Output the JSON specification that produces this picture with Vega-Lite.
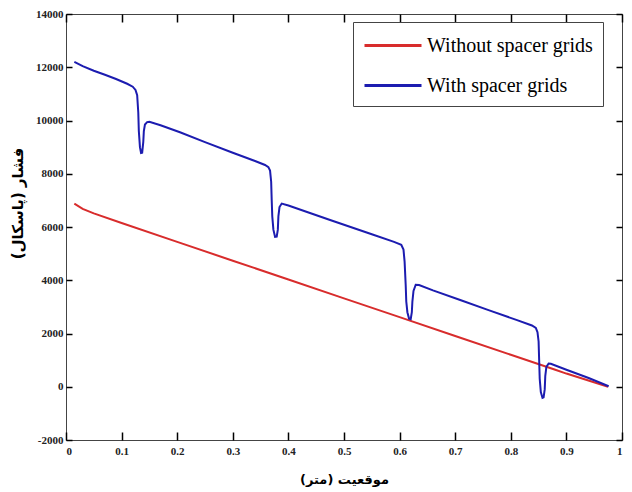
{
  "$schema": "https://vega.github.io/schema/vega-lite/v6.json",
  "width": 556,
  "height": 426,
  "autosize": {"type": "none"},
  "padding": {"left": 66, "top": 14, "right": 10, "bottom": 52},
  "background": "white",
  "config": {
    "view": {"stroke": "#444", "strokeWidth": 1},
    "axis": {
      "domain": false,
      "grid": false,
      "ticks": true,
      "tickColor": "#000000",
      "tickOpacity": 1,
      "tickWidth": 1.5,
      "labelFont": "Liberation Serif",
      "labelFontWeight": "bold",
      "labelFontSize": 11,
      "labelColor": "#222",
      "titleFont": "DejaVu Sans",
      "titleFontWeight": "bold",
      "titleFontSize": 14,
      "titleColor": "black"
    }
  },
  "datasets": {
    "curves": [
      {"x": 0.015, "p": 6880, "s": "Without spacer grids"},
      {"x": 0.03, "p": 6680, "s": "Without spacer grids"},
      {"x": 0.05, "p": 6510, "s": "Without spacer grids"},
      {"x": 0.1, "p": 6150, "s": "Without spacer grids"},
      {"x": 0.2, "p": 5440, "s": "Without spacer grids"},
      {"x": 0.3, "p": 4735, "s": "Without spacer grids"},
      {"x": 0.4, "p": 4030, "s": "Without spacer grids"},
      {"x": 0.5, "p": 3320, "s": "Without spacer grids"},
      {"x": 0.6, "p": 2615, "s": "Without spacer grids"},
      {"x": 0.7, "p": 1905, "s": "Without spacer grids"},
      {"x": 0.8, "p": 1200, "s": "Without spacer grids"},
      {"x": 0.88, "p": 640, "s": "Without spacer grids"},
      {"x": 0.9, "p": 495, "s": "Without spacer grids"},
      {"x": 0.975, "p": 0, "s": "Without spacer grids"},
      {"x": 0.015, "p": 12200, "s": "With spacer grids"},
      {"x": 0.03, "p": 12040, "s": "With spacer grids"},
      {"x": 0.05, "p": 11870, "s": "With spacer grids"},
      {"x": 0.07, "p": 11720, "s": "With spacer grids"},
      {"x": 0.09, "p": 11560, "s": "With spacer grids"},
      {"x": 0.11, "p": 11380, "s": "With spacer grids"},
      {"x": 0.12, "p": 11270, "s": "With spacer grids"},
      {"x": 0.125, "p": 11150, "s": "With spacer grids"},
      {"x": 0.128, "p": 10950, "s": "With spacer grids"},
      {"x": 0.13, "p": 10300, "s": "With spacer grids"},
      {"x": 0.131, "p": 9600, "s": "With spacer grids"},
      {"x": 0.133, "p": 9000, "s": "With spacer grids"},
      {"x": 0.135, "p": 8780, "s": "With spacer grids"},
      {"x": 0.137, "p": 8790, "s": "With spacer grids"},
      {"x": 0.139, "p": 9200, "s": "With spacer grids"},
      {"x": 0.14, "p": 9600, "s": "With spacer grids"},
      {"x": 0.142, "p": 9850, "s": "With spacer grids"},
      {"x": 0.146, "p": 9940, "s": "With spacer grids"},
      {"x": 0.15, "p": 9955, "s": "With spacer grids"},
      {"x": 0.17, "p": 9820, "s": "With spacer grids"},
      {"x": 0.205, "p": 9560, "s": "With spacer grids"},
      {"x": 0.25, "p": 9190, "s": "With spacer grids"},
      {"x": 0.3, "p": 8790, "s": "With spacer grids"},
      {"x": 0.34, "p": 8480, "s": "With spacer grids"},
      {"x": 0.358, "p": 8330, "s": "With spacer grids"},
      {"x": 0.364, "p": 8250, "s": "With spacer grids"},
      {"x": 0.367, "p": 8120, "s": "With spacer grids"},
      {"x": 0.369, "p": 7700, "s": "With spacer grids"},
      {"x": 0.37, "p": 7000, "s": "With spacer grids"},
      {"x": 0.371, "p": 6400, "s": "With spacer grids"},
      {"x": 0.373, "p": 5900, "s": "With spacer grids"},
      {"x": 0.376, "p": 5630, "s": "With spacer grids"},
      {"x": 0.379, "p": 5640, "s": "With spacer grids"},
      {"x": 0.381, "p": 5900, "s": "With spacer grids"},
      {"x": 0.382, "p": 6400, "s": "With spacer grids"},
      {"x": 0.384, "p": 6750, "s": "With spacer grids"},
      {"x": 0.388, "p": 6880, "s": "With spacer grids"},
      {"x": 0.4, "p": 6810, "s": "With spacer grids"},
      {"x": 0.475, "p": 6263, "s": "With spacer grids"},
      {"x": 0.55, "p": 5730, "s": "With spacer grids"},
      {"x": 0.59, "p": 5440, "s": "With spacer grids"},
      {"x": 0.603, "p": 5330, "s": "With spacer grids"},
      {"x": 0.607, "p": 5150, "s": "With spacer grids"},
      {"x": 0.609, "p": 4700, "s": "With spacer grids"},
      {"x": 0.611, "p": 3800, "s": "With spacer grids"},
      {"x": 0.612, "p": 3200, "s": "With spacer grids"},
      {"x": 0.614, "p": 2800, "s": "With spacer grids"},
      {"x": 0.617, "p": 2560, "s": "With spacer grids"},
      {"x": 0.62, "p": 2540, "s": "With spacer grids"},
      {"x": 0.622, "p": 2800, "s": "With spacer grids"},
      {"x": 0.623, "p": 3200, "s": "With spacer grids"},
      {"x": 0.625, "p": 3600, "s": "With spacer grids"},
      {"x": 0.629, "p": 3830, "s": "With spacer grids"},
      {"x": 0.635, "p": 3820, "s": "With spacer grids"},
      {"x": 0.66, "p": 3620, "s": "With spacer grids"},
      {"x": 0.709, "p": 3258, "s": "With spacer grids"},
      {"x": 0.76, "p": 2880, "s": "With spacer grids"},
      {"x": 0.81, "p": 2510, "s": "With spacer grids"},
      {"x": 0.838, "p": 2300, "s": "With spacer grids"},
      {"x": 0.845, "p": 2210, "s": "With spacer grids"},
      {"x": 0.848, "p": 2050, "s": "With spacer grids"},
      {"x": 0.85, "p": 1700, "s": "With spacer grids"},
      {"x": 0.851, "p": 1000, "s": "With spacer grids"},
      {"x": 0.852, "p": 300, "s": "With spacer grids"},
      {"x": 0.854, "p": -200, "s": "With spacer grids"},
      {"x": 0.857, "p": -420, "s": "With spacer grids"},
      {"x": 0.859, "p": -400, "s": "With spacer grids"},
      {"x": 0.861, "p": -100, "s": "With spacer grids"},
      {"x": 0.862, "p": 400, "s": "With spacer grids"},
      {"x": 0.864, "p": 750, "s": "With spacer grids"},
      {"x": 0.868, "p": 870, "s": "With spacer grids"},
      {"x": 0.872, "p": 860, "s": "With spacer grids"},
      {"x": 0.9, "p": 640, "s": "With spacer grids"},
      {"x": 0.94, "p": 330, "s": "With spacer grids"},
      {"x": 0.976, "p": 20, "s": "With spacer grids"}
    ]
  },
  "data": {"name": "curves"},
  "layer": [
    {
      "transform": [{"filter": "datum.s == 'Without spacer grids'"}],
      "mark": {"type": "line", "strokeWidth": 2},
      "encoding": {
        "x": {
          "field": "x", "type": "quantitative",
          "scale": {"domain": [0, 1], "nice": false, "zero": false},
          "axis": {
            "orient": "bottom",
            "values": [0, 0.1, 0.2, 0.3, 0.4, 0.5, 0.6, 0.7, 0.8, 0.9, 1],
            "labelExpr": "datum.value + ''",
            "offset": -8,
            "tickSize": 8,
            "labelPadding": 5,
            "title": "موقعیت (متر)",
            "titleFontSize": 13,
            "titlePadding": 17
          }
        },
        "y": {
          "field": "p", "type": "quantitative",
          "scale": {"domain": [-2000, 14000], "nice": false, "zero": false},
          "axis": {
            "orient": "left",
            "values": [-2000, 0, 2000, 4000, 6000, 8000, 10000, 12000, 14000],
            "labelExpr": "datum.value + ''",
            "offset": -6,
            "tickSize": 6,
            "labelPadding": 3,
            "title": "فشار (پاسکال)",
            "titleFontSize": 15,
            "titlePadding": 10,
            "titleY": 189
          }
        },
        "color": {
          "field": "s", "type": "nominal",
          "scale": {"domain": ["Without spacer grids", "With spacer grids"], "range": ["#d82c2c", "#1c1cb0"]},
          "legend": {
            "orient": "none",
            "legendX": 287,
            "legendY": 8,
            "title": null,
            "symbolType": "M-1,0H3.75",
            "symbolSize": 576,
            "symbolStrokeWidth": 3,
            "labelFont": "Liberation Serif",
            "labelFontSize": 20,
            "labelLimit": 400,
            "labelColor": "black",
            "labelOffset": 37,
            "rowPadding": 16,
            "padding": 10,
            "strokeColor": "#444",
            "fillColor": "white"
          }
        }
      }
    },
    {
      "transform": [{"filter": "datum.s == 'With spacer grids'"}],
      "mark": {"type": "line", "strokeWidth": 2},
      "encoding": {
        "x": {
          "field": "x", "type": "quantitative",
          "axis": {"orient": "top", "values": [0, 0.1, 0.2, 0.3, 0.4, 0.5, 0.6, 0.7, 0.8, 0.9, 1], "labels": false, "offset": -8, "tickSize": 8, "title": null}
        },
        "y": {
          "field": "p", "type": "quantitative",
          "axis": {"orient": "right", "values": [-2000, 0, 2000, 4000, 6000, 8000, 10000, 12000, 14000], "labels": false, "offset": -6, "tickSize": 6, "title": null}
        },
        "color": {"field": "s", "type": "nominal"}
      }
    }
  ],
  "resolve": {"axis": {"x": "independent", "y": "independent"}}
}
